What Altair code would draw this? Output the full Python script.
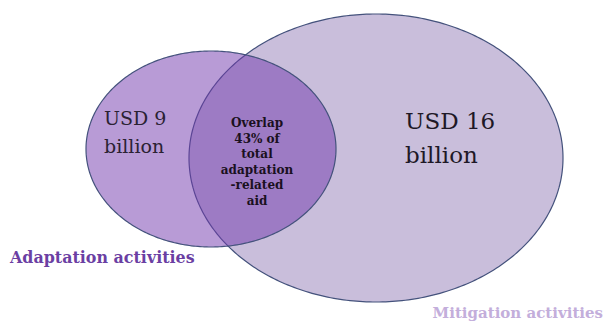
import altair as alt
import pandas as pd
import numpy as np

# Venn sets (pixel-like data units, y downward)
set_names = ["Mitigation activities", "Adaptation activities"]
set_cx = [376, 211]
set_cy = [158, 149]
set_rx = [187, 125]
set_ry = [144, 98]
set_fill = ["#c9bedb", "#7238ad"]
set_fill_opacity = [1.0, 0.5]

# Labels
usd_small = "USD 9\nbillion"
usd_large = "USD 16\nbillion"
overlap_lines = "Overlap\n43% of\ntotal\nadaptation\n-related\naid"
adapt_label = "Adaptation activities"
mitig_label = "Mitigation activities"

W, H = 606, 322
angles = np.arange(0, 181, 1)
FONT = "DejaVu Serif"

rows = []
for i, n in enumerate(set_names):
    for a in angles:
        rows.append({"set": n, "order": i, "cx": set_cx[i], "cy": set_cy[i],
                     "rx": set_rx[i], "ry": set_ry[i], "a": float(a)})
ell = pd.DataFrame(rows)

xs = alt.Scale(domain=[0, W], nice=False, zero=False)
ys = alt.Scale(domain=[0, H], nice=False, zero=False, reverse=True)


def ellipse(i):
    return alt.Chart(ell[ell["order"] == i]).transform_calculate(
        x="datum.cx + datum.rx*cos(datum.a*PI/180)",
        y="datum.cy + datum.ry*sin(datum.a*PI/180)",
        y2="datum.cy - datum.ry*sin(datum.a*PI/180)",
    ).mark_area(
        fill=set_fill[i], fillOpacity=set_fill_opacity[i],
        stroke="#44527c", strokeWidth=1.2, strokeOpacity=1,
    ).encode(
        x=alt.X("x:Q", scale=xs, axis=None),
        y=alt.Y("y:Q", scale=ys, axis=None),
        y2="y2:Q",
    )


def label(txt, x, y, size, color, weight="normal", align="left", lh=None):
    df = pd.DataFrame({"t": [txt], "x": [x], "y": [y]})
    return alt.Chart(df).mark_text(
        font=FONT, fontSize=size, fontWeight=weight, color=color,
        align=align, baseline="alphabetic", lineBreak="\n", lineHeight=lh or size * 1.2,
    ).encode(
        x=alt.X("x:Q", scale=xs, axis=None),
        y=alt.Y("y:Q", scale=ys, axis=None),
        text="t:N",
    )


chart = alt.layer(
    ellipse(0),
    ellipse(1),
    label(usd_small, 104, 125, 19, "#2b2233", lh=28),
    label(usd_large, 405, 129, 23, "#1e1826", lh=34),
    label(overlap_lines, 257, 127, 12, "#1a1020", weight="bold", align="center", lh=15.6),
    label(adapt_label, 10, 263, 15.9, "#6b3fa3", weight="bold"),
    label(mitig_label, 603, 318, 15, "#c3aedb", weight="bold", align="right"),
).properties(
    width=W, height=H, padding=0, autosize=alt.AutoSizeParams(type="none")
).configure_view(stroke=None)

chart.save("out.html", embed_options={"renderer": "svg", "actions": False})
